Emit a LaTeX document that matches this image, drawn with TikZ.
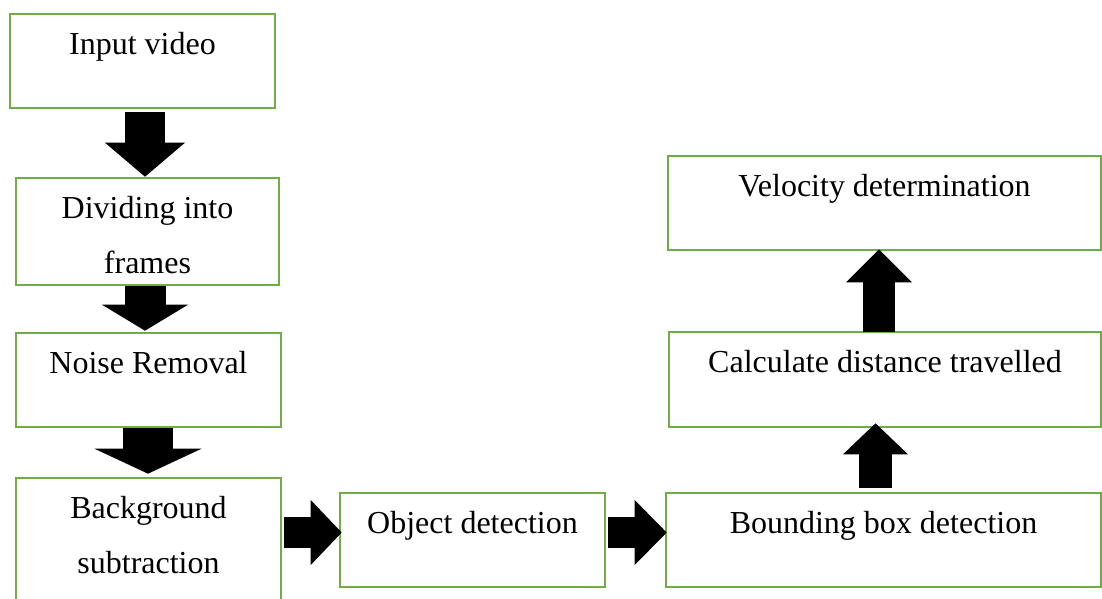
\documentclass[tikz,border=0pt]{standalone}
\usepackage{fontspec}
\setmainfont{Liberation Serif}
\usetikzlibrary{arrows.meta,calc}
\definecolor{boxgreen}{HTML}{70AD47}
\tikzset{
  box/.style={draw=boxgreen, line width=2.6pt, rectangle, inner sep=0pt},
  lbl/.style={inner sep=0pt, anchor=base, font=\fontsize{32}{55}\selectfont},
  fat/.style={draw=black, line cap=butt},
}
% two centred lines, aligned on the baseline of the first one
\newcommand{\twolines}[2]{\begin{tabular}[t]{@{}c@{}}#1\\#2\end{tabular}}
\begin{document}
\begin{tikzpicture}[x=1pt, y=-1pt]
  \clip (0,0) rectangle (1102,598);

  % process boxes
  \node[box, minimum width=265pt, minimum height=94pt]  (in)    at (142.5,61)  {};
  \node[box, minimum width=263pt, minimum height=107pt] (div)   at (147.5,231.5) {};
  \node[box, minimum width=265pt, minimum height=94pt]  (noise) at (148.5,380) {};
  \node[box, minimum width=265pt, minimum height=142pt] (bg)    at (148.5,549) {};
  \node[box, minimum width=265pt, minimum height=94pt]  (obj)   at (472.5,540) {};
  \node[box, minimum width=435pt, minimum height=94pt]  (bbox)  at (883.5,540) {};
  \node[box, minimum width=432pt, minimum height=95pt]  (calc)  at (885,379.5) {};
  \node[box, minimum width=433pt, minimum height=94pt]  (vel)   at (884.5,203) {};

  % box texts, set near the top of each box
  \node[lbl] (in-t)    at ($(in.north)+(0,41.5)$)    {Input video};
  \node[lbl] (div-t)   at ($(div.north)+(0,41.5)$)   {\twolines{Dividing into}{frames}};
  \node[lbl] (noise-t) at ($(noise.north)+(0,41.5)$) {Noise Removal};
  \node[lbl] (bg-t)    at ($(bg.north)+(0,41.5)$)    {\twolines{Background}{subtraction}};
  \node[lbl] (obj-t)   at ($(obj.north)+(0,41.5)$)   {Object detection};
  \node[lbl] (bbox-t)  at ($(bbox.north)+(0,41.5)$)  {Bounding box detection};
  \node[lbl] (calc-t)  at ($(calc.north)+(0,41.5)$)  {Calculate distance travelled};
  \node[lbl] (vel-t)   at ($(vel.north)+(0,41.5)$)   {Velocity determination};

  % block arrows
  \draw[fat, line width=40pt, -{Triangle[width=80pt,length=34pt,line width=0pt]}]
    ($(in.south)+(2.5,3)$) -- ($(div.north)+(-2.5,0)$);
  \draw[fat, line width=41pt, -{Triangle[width=86pt,length=26pt,line width=0pt]}]
    ($(div.south)+(-2.5,0)$) -- ($(noise.north)+(-3.5,-1)$);
  \draw[fat, line width=50pt, -{Triangle[width=107pt,length=25pt,line width=0pt]}]
    ($(noise.south)+(-0.5,0)$) -- ($(bg.north)+(-0.5,-3)$);
  \draw[fat, line width=31pt, -{Triangle[width=65pt,length=31pt,line width=0pt]}]
    ($(bg.east |- obj.west)+(2,-7.5)$) -- ($(obj.west)+(3,-7.5)$);
  \draw[fat, line width=31pt, -{Triangle[width=65pt,length=32pt,line width=0pt]}]
    ($(obj.east)+(2,-7.5)$) -- ($(bbox.west)+(2,-7.5)$);
  \draw[fat, line width=33pt, -{Triangle[width=65pt,length=31pt,line width=0pt]}]
    ($(bbox.north)+(-8,-4)$) -- ($(calc.south)+(-9.5,-5)$);
  \draw[fat, line width=32pt, -{Triangle[width=66pt,length=33pt,line width=0pt]}]
    ($(calc.north)+(-6,1)$) -- ($(vel.south)+(-5.5,-2)$);
\end{tikzpicture}
\end{document}
